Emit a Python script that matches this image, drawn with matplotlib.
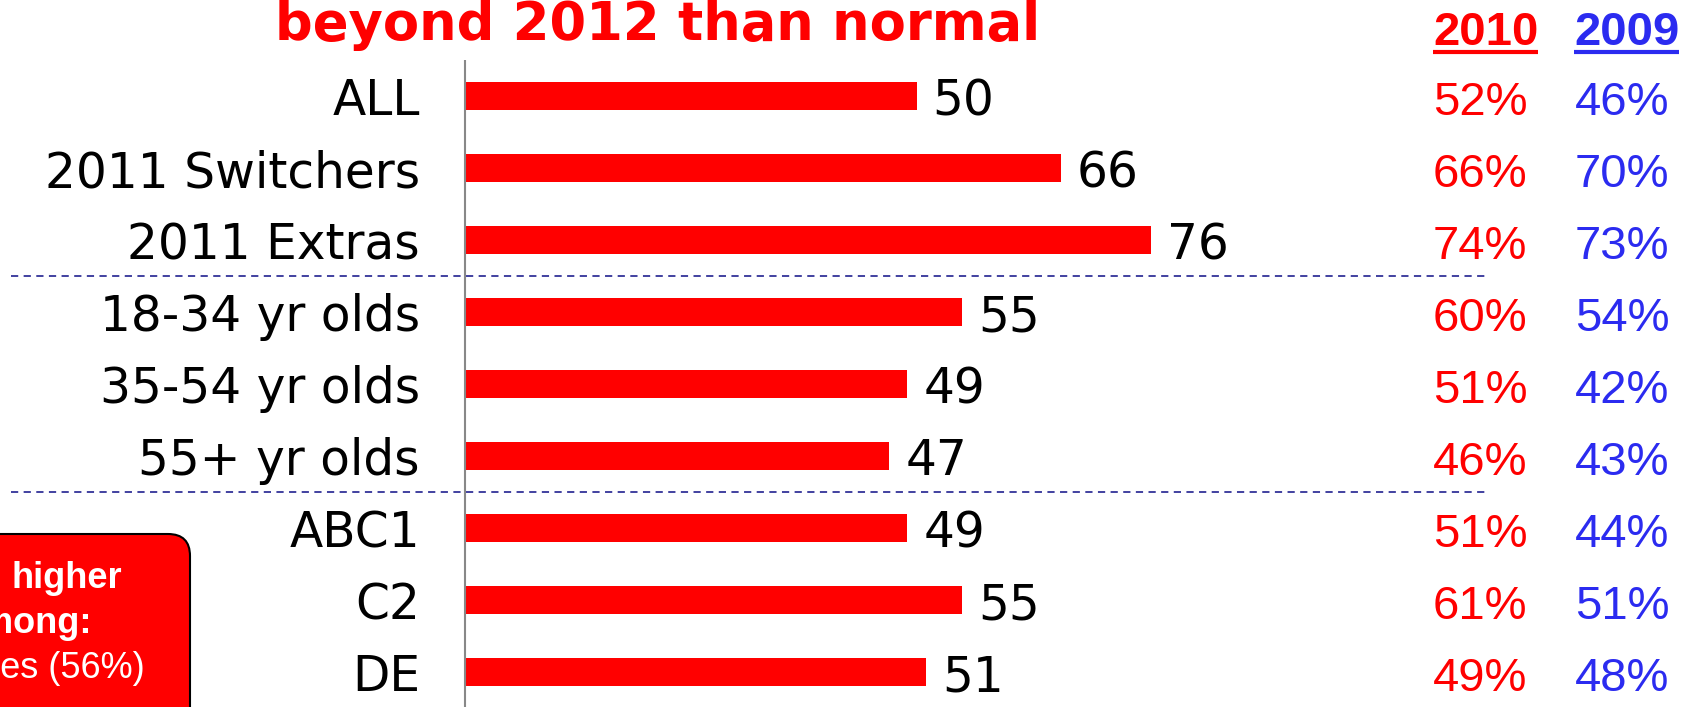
import matplotlib.pyplot as plt
from matplotlib.patches import FancyBboxPatch

labels = ["ALL", "2011 Switchers", "2011 Extras", "18-34 yr olds", "35-54 yr olds",
          "55+ yr olds", "ABC1", "C2", "DE"]
values = [50, 66, 76, 55, 49, 47, 49, 55, 51]
pct_2010 = [52, 66, 74, 60, 51, 46, 51, 61, 49]
pct_2009 = [46, 70, 73, 54, 42, 43, 44, 51, 48]
separators = [2.5, 5.5]

RED = "#ff0000"
BLUE = "#2b2bf0"
NAVY = "#333399"

W, H = 1682, 707
PX = 9.02        # pixels per value unit
X0 = 465.5       # pixel x of the value axis
ROW0, PITCH = 96, 72


def dx(px):
    return (px - X0) / PX


fig = plt.figure(figsize=(W / 100, H / 100), dpi=100)
ax = fig.add_axes([0, 0, 1, 1])
ax.set_xlim(dx(0), dx(W))
ax.set_ylim((H - ROW0) / PITCH, -ROW0 / PITCH)
ax.axis("off")

rows = list(range(len(labels)))
ax.barh(rows, values, height=0.39, color=RED)
ax.vlines(0, -0.5, 9, color="#888888", lw=1.5)
for s in separators:
    ax.hlines(s, dx(11), dx(1486), color=NAVY, lw=1.3, linestyles=(0, (4, 3)))

base = 0.27
for i, (lab, v) in enumerate(zip(labels, values)):
    ax.text(dx(420), i + base, lab, ha="right", va="baseline", fontsize=35,
            family="DejaVu Sans", color="black")
    ax.text(v + 1.8, i + base, str(v), ha="left", va="baseline", fontsize=35,
            family="DejaVu Sans", color="black")
    ax.text(dx(1433), i + base, f"{pct_2010[i]}%", ha="left", va="baseline",
            fontsize=34, family="Liberation Sans", color=RED)
    ax.text(dx(1575), i + base, f"{pct_2009[i]}%", ha="left", va="baseline",
            fontsize=34, family="Liberation Sans", color=BLUE)

# column headers with underline
hy = (45 - ROW0) / PITCH
h1 = ax.text(dx(1433), hy, "2010", ha="left", va="baseline", fontsize=34,
             fontweight="bold", family="Liberation Sans", color=RED)
h2 = ax.text(dx(1574), hy, "2009", ha="left", va="baseline", fontsize=34,
             fontweight="bold", family="Liberation Sans", color=BLUE)

# title (first line is above the crop)
ax.text(dx(658), (40 - ROW0) / PITCH, "beyond 2012 than normal", ha="center",
        va="baseline", fontsize=38, fontweight="bold", family="DejaVu Sans",
        color=RED)

fig.canvas.draw()
r = fig.canvas.get_renderer()
uy = (52 - ROW0) / PITCH
for t, c in [(h1, RED), (h2, BLUE)]:
    bb = t.get_window_extent(r)
    ax.plot([dx(bb.x0), dx(bb.x1)], [uy, uy], color=c, lw=3, solid_capstyle="butt")

# callout box on the left, partly cut off
box = FancyBboxPatch((-0.3, -0.3), 2.2, 2.03, boxstyle="round,pad=0,rounding_size=0.22",
                     transform=fig.dpi_scale_trans, facecolor=RED, edgecolor="black",
                     lw=1.5, clip_on=False)
fig.patches.append(box)
fig.text(122 / W, 1 - 588 / H, "higher", ha="right", va="baseline", fontsize=26,
         fontweight="bold", family="Liberation Sans", color="white")
fig.text(92 / W, 1 - 633 / H, "among:", ha="right", va="baseline", fontsize=26,
         fontweight="bold", family="Liberation Sans", color="white")
fig.text(145 / W, 1 - 678 / H, "Females (56%)", ha="right", va="baseline", fontsize=26,
         family="Liberation Sans", color="white")

fig.savefig("out.png", dpi=100)
